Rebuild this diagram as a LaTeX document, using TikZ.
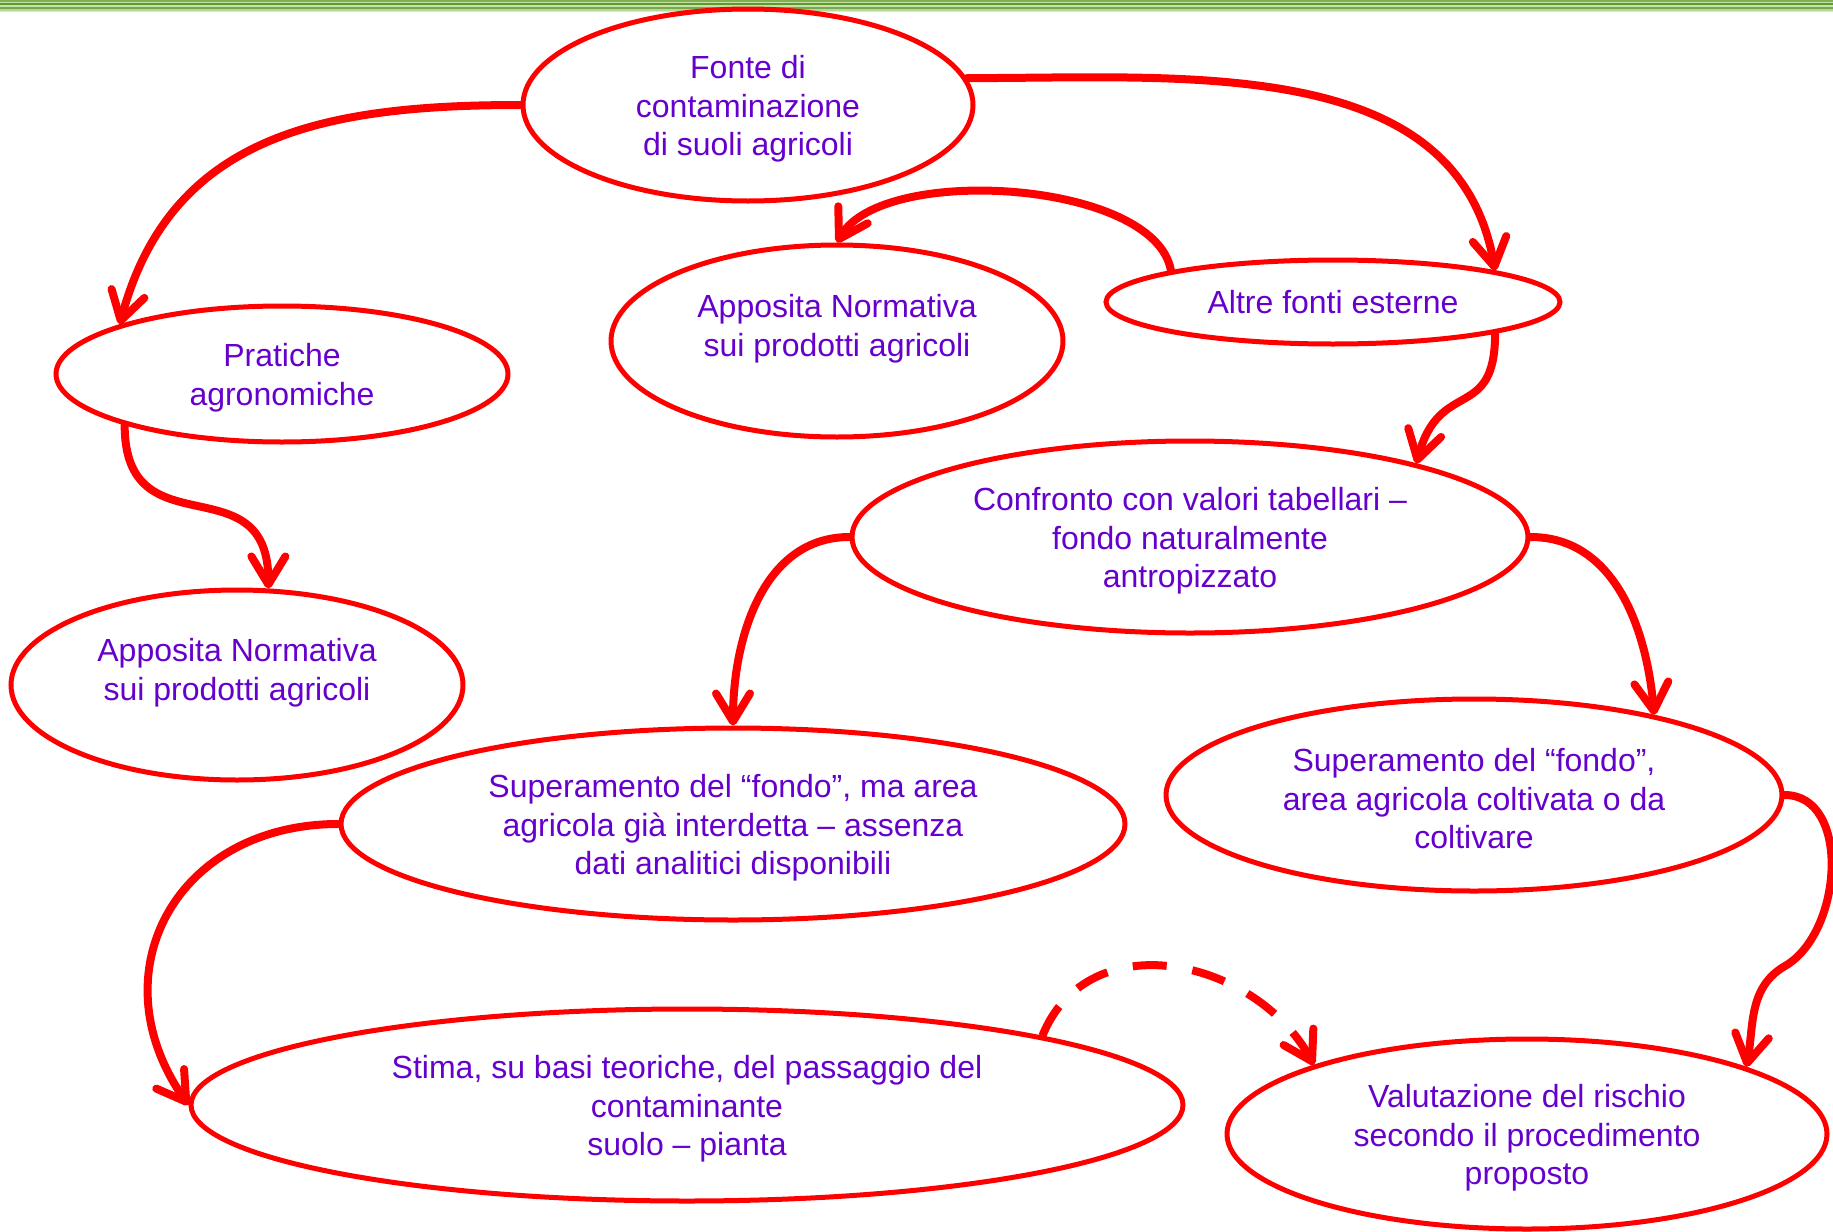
\documentclass[tikz,border=0pt]{standalone}
\usepackage{fontspec}
\setmainfont{Liberation Sans}
\usepackage{xcolor}
\usepackage{tikz}
\usetikzlibrary{arrows.meta,shapes.geometric}
\definecolor{linkred}{HTML}{FF0000}
\definecolor{textviolet}{HTML}{6600CC}
\definecolor{barmid}{HTML}{7FB24E}
\definecolor{barlight}{HTML}{C6E2A8}
\definecolor{bardark}{HTML}{5C9A2E}
\definecolor{barpale}{HTML}{D8EDC4}
\newcommand{\lift}{\rule{0pt}{15.5pt}}

\begin{document}
\begin{tikzpicture}[x=0.5pt, y=-0.5pt,
  every node/.style={font=\fontsize{16}{19.3}\selectfont, text=textviolet, align=center},
  bubble/.style={draw=linkred, line width=2.5pt, ellipse, inner sep=0pt},
  link/.style={-{Straight Barb[length=14pt,width=17pt,line cap=round,line join=round]},
    line width=4pt, draw=linkred, line cap=round},
  hint/.style={link, line cap=butt, dash pattern=on 17pt off 13pt}]
  \useasboundingbox (0,0) rectangle (1833,1232);

  % green band on top
  \fill[barmid] (0,0) rectangle (1833,1.5);
  \fill[barlight] (0,1.5) rectangle (1833,3);
  \fill[bardark] (0,3) rectangle (1833,5);
  \fill[barlight] (0,5) rectangle (1833,6.5);
  \fill[bardark!85] (0,6.5) rectangle (1833,9);
  \fill[barlight!80!barmid] (0,9) rectangle (1833,10.5);
  \fill[barpale] (0,10.5) rectangle (1833,12);

  \node[bubble, minimum width=225pt, minimum height=96pt] (fonte) at (748,105) {\lift Fonte di\\contaminazione\\di suoli agricoli};
  \node[bubble, minimum width=226pt, minimum height=68pt] (pratiche) at (282,374) {\lift Pratiche\\agronomiche};
  \node[bubble, minimum width=226pt, minimum height=96pt] (normA) at (837,341) {\lift Apposita Normativa\\sui prodotti agricoli\\\mbox{}};
  \node[bubble, minimum width=227pt, minimum height=42pt] (altre) at (1333,302) {Altre fonti esterne};
  \node[bubble, minimum width=226pt, minimum height=95pt] (normB) at (237,685) {\lift Apposita Normativa\\sui prodotti agricoli\\\mbox{}};
  \node[bubble, minimum width=338pt, minimum height=96pt] (confronto) at (1190,537) {\lift Confronto con valori tabellari --\\fondo naturalmente\\antropizzato};
  \node[bubble, minimum width=392pt, minimum height=96pt] (superma) at (733,824) {\lift Superamento del ``fondo'', ma area\\agricola già interdetta -- assenza\\dati analitici disponibili};
  \node[bubble, minimum width=308pt, minimum height=96pt] (superfondo) at (1474,795) {\lift Superamento del ``fondo'',\\area agricola coltivata o da\\coltivare};
  \node[bubble, minimum width=496pt, minimum height=96pt] (stima) at (687,1105) {\lift Stima, su basi teoriche, del passaggio del\\contaminante\\suolo -- pianta};
  \node[bubble, minimum width=300pt, minimum height=95pt] (valuta) at (1527,1134) {\lift Valutazione del rischio\\secondo il procedimento\\proposto};

  \coordinate (bendR) at (1785,966);

  \draw[link] (fonte.west) to[out=180, in=75, looseness=1.1] (pratiche.163);
  \draw[link] (pratiche.198) to[out=-90, in=90, looseness=1.5] (normB.72);
  \draw[link] (fonte.7) to[out=0, in=100] (altre.11);
  \draw[link] (altre.169) to[out=100, in=60, looseness=0.7] (normA.north);
  \draw[link] (altre.-11) to[out=-90, in=75, looseness=1.5] (confronto.18);
  \draw[link] (confronto.west) to[out=180, in=90] (superma.north);
  \draw[link] (confronto.east) to[out=0, in=95] (superfondo.24);
  \draw[link] (superfondo.east) to[out=0, in=30] (bendR) to[out=210, in=80] (valuta.17);
  \draw[link] (superma.west) to[out=180, in=125, looseness=1.3] (stima.west);
  \draw[hint] (stima.11) to[out=68, in=119, looseness=1.15] (valuta.162);
\end{tikzpicture}
\end{document}
